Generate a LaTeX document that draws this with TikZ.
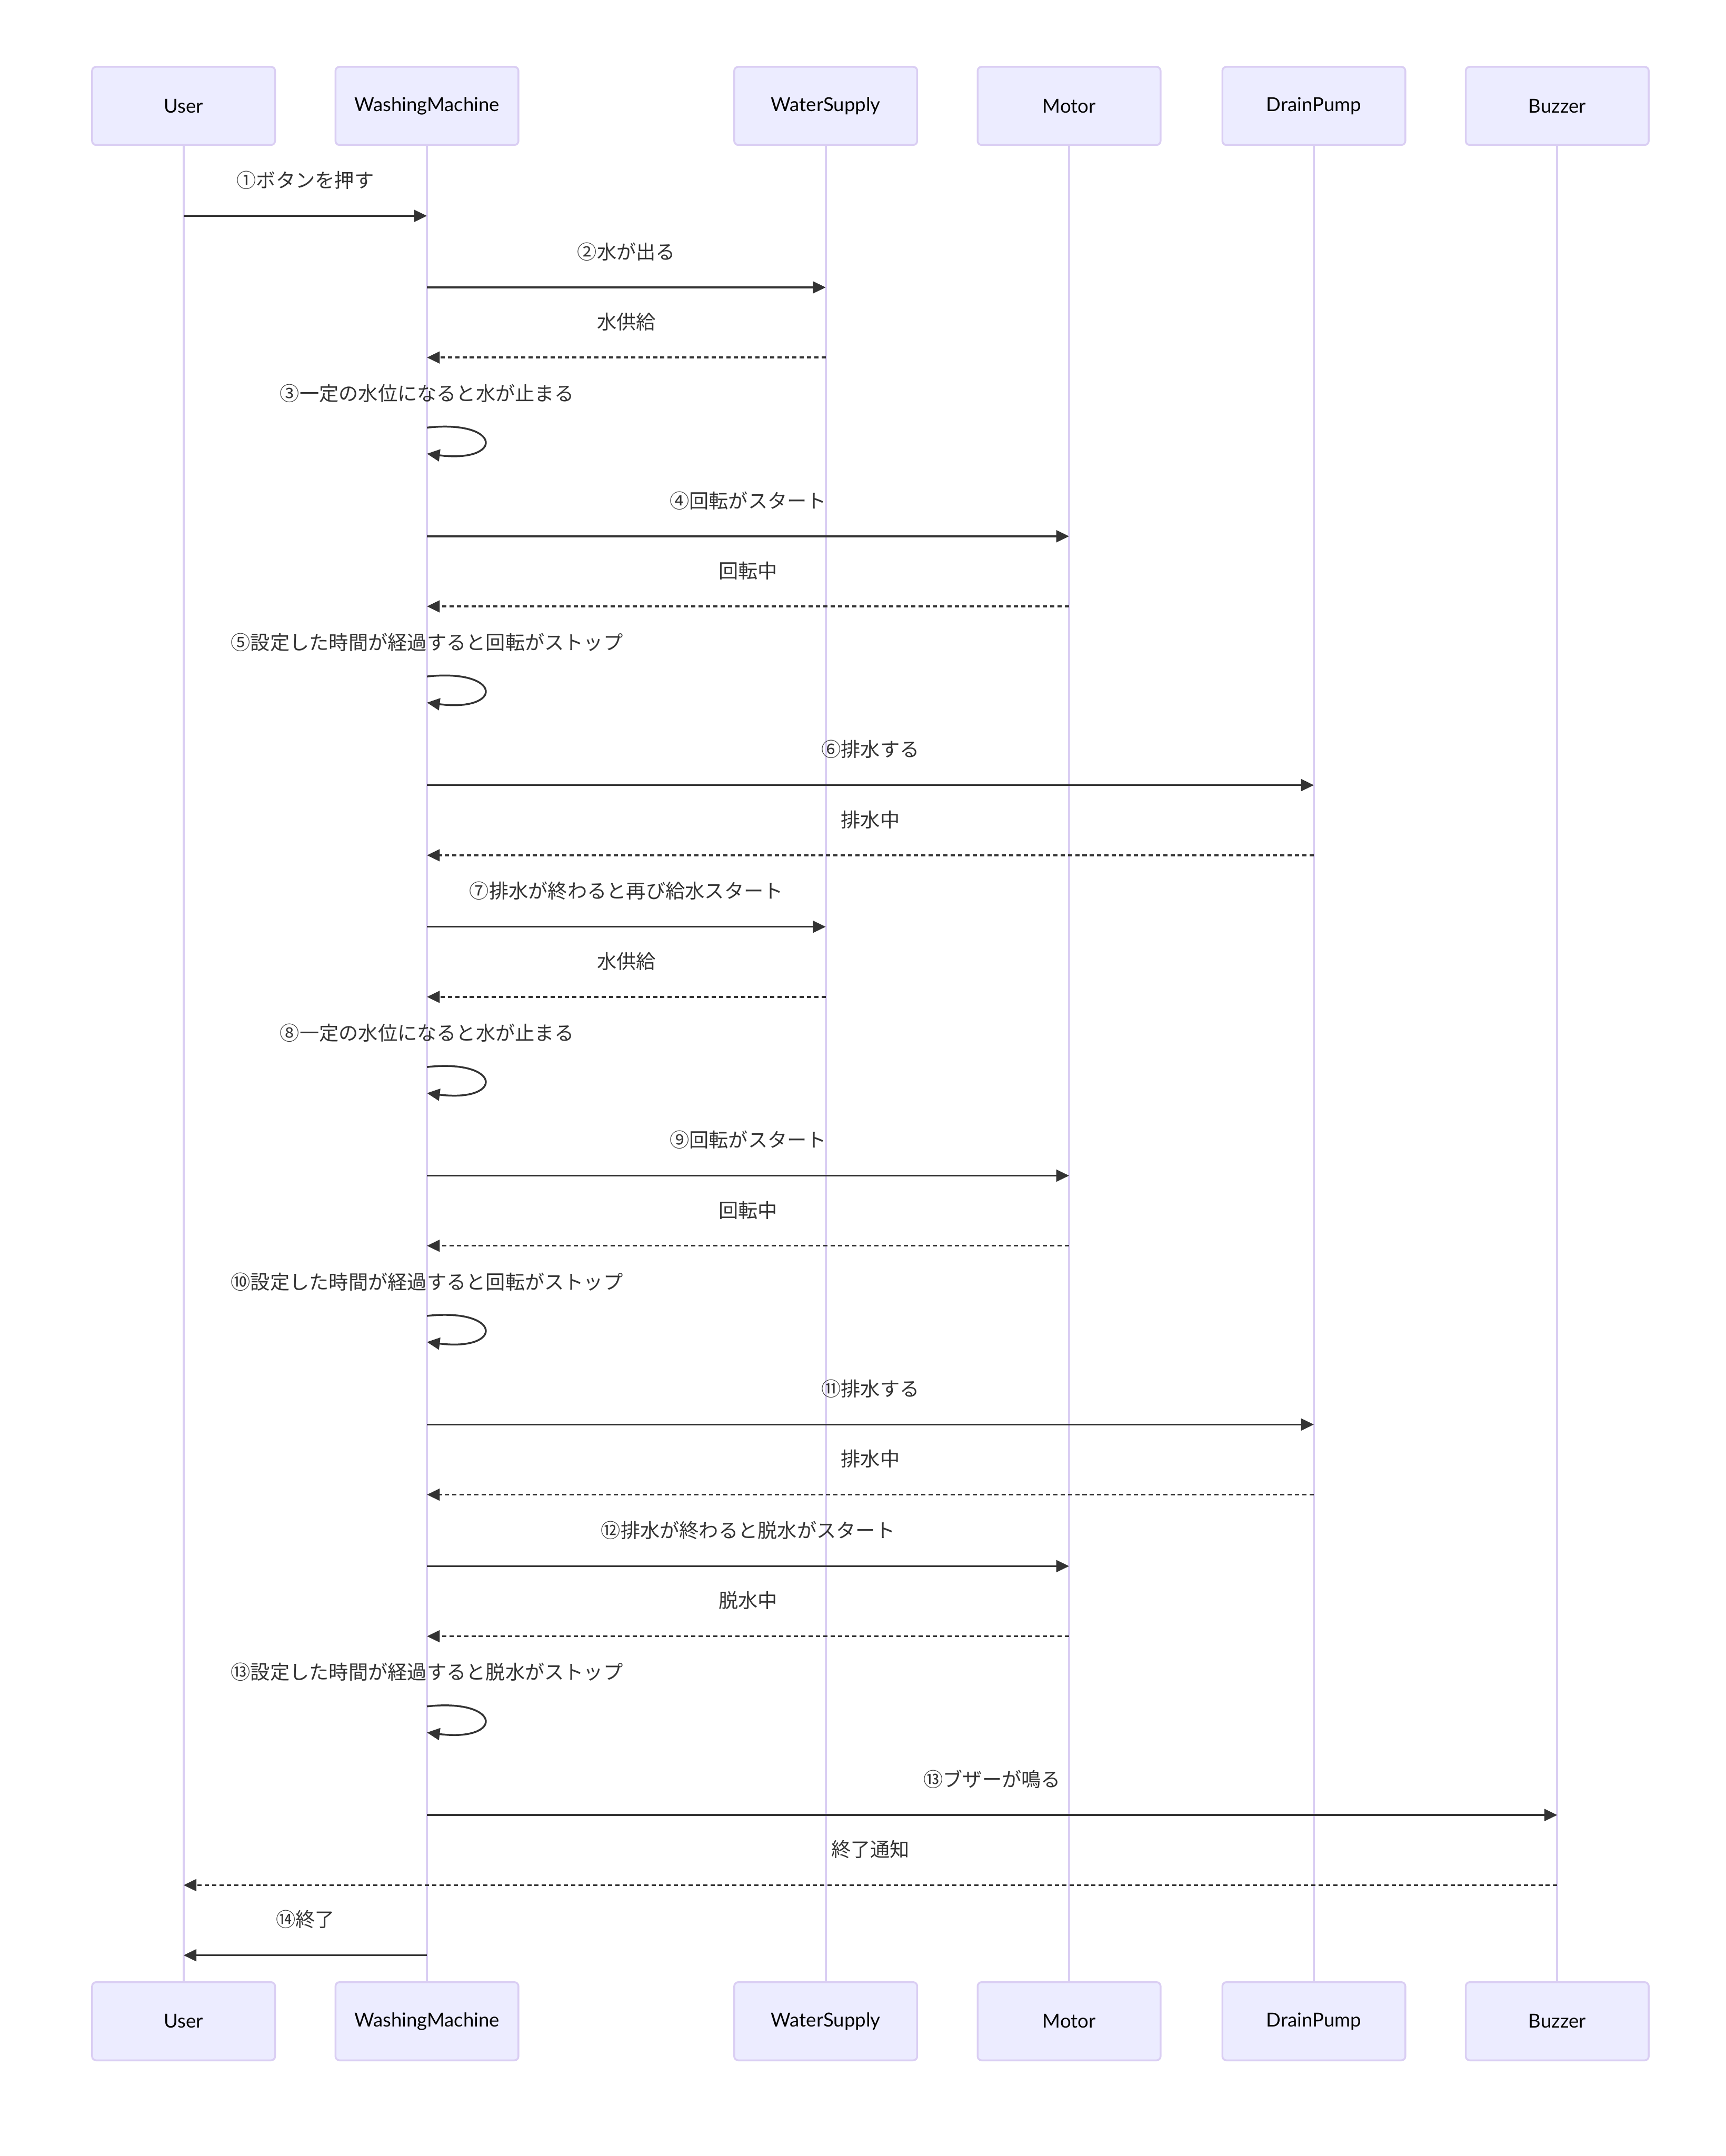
\documentclass[tikz,border=0pt]{standalone}
\usepackage{fontspec}
\setmainfont{Lato}
\newfontfamily\jpfont{Noto Sans CJK JP}
\usetikzlibrary{arrows.meta}
\definecolor{actfill}{HTML}{ECECFF}
\definecolor{actline}{RGB}{218,206,243}
\definecolor{msgcol}{HTML}{333333}

\begin{document}
\begin{tikzpicture}[x=0.02638cm,y=-0.02638cm,
  actor/.style={draw=actline,line width=1pt,fill=actfill,rounded corners=2.2pt,minimum width=3.51cm,minimum height=1.5cm,font=\fontsize{10.5}{12}\selectfont},
  life/.style={actline,line width=1.2pt},
  call/.style={msgcol,line width=1pt,-{Triangle[length=7pt,width=6.5pt]}},
  reply/.style={call,dash pattern=on 2.3pt off 1.7pt},
  msg/.style={text=msgcol,inner sep=0pt,font=\jpfont\fontsize{10.7}{12}\selectfont}]
\useasboundingbox (0,0) rectangle (1255,1568);
% actors, top and bottom, with lifelines
\foreach \nm/\x in {User/133.5,WashingMachine/310.5,WaterSupply/600.5,Motor/777.5,DrainPump/955.5,Buzzer/1132.5}{
  \node[actor] (\nm T) at (\x,77) {\nm};\node[actor] (\nm B) at (\x,1470) {\nm};
  \draw[life] (\nm T) -- (\nm B);}
% messages between lifelines
\foreach \n/\a/\b/\y/\t/\s in {1/User/WashingMachine/157/①ボタンを押す/call,
  2/WashingMachine/WaterSupply/209/②水が出る/call,3/WaterSupply/WashingMachine/260/水供給/reply,
  4/WashingMachine/Motor/390/④回転がスタート/call,5/Motor/WashingMachine/441/回転中/reply,
  6/WashingMachine/DrainPump/571/⑥排水する/call,7/DrainPump/WashingMachine/622/排水中/reply,
  8/WashingMachine/WaterSupply/674/⑦排水が終わると再び給水スタート/call,9/WaterSupply/WashingMachine/725/水供給/reply,
  10/WashingMachine/Motor/855/⑨回転がスタート/call,11/Motor/WashingMachine/906/回転中/reply,
  12/WashingMachine/DrainPump/1036/⑪排水する/call,13/DrainPump/WashingMachine/1087/排水中/reply,
  14/WashingMachine/Motor/1139/⑫排水が終わると脱水がスタート/call,15/Motor/WashingMachine/1190/脱水中/reply,
  16/WashingMachine/Buzzer/1320/⑬ブザーが鳴る/call,17/Buzzer/User/1371/終了通知/reply,
  18/WashingMachine/User/1422/⑭終了/call}{
  \coordinate (m\n s) at (\a T |- 0,\y);\coordinate (m\n e) at (\b T |- 0,\y);
  \draw[\s] (m\n s) -- node[msg,yshift=19.5pt] (l\n) {\t} (m\n e);}
% self messages on WashingMachine
\foreach \n/\y/\t in {3/311/③一定の水位になると水が止まる,5/492/⑤設定した時間が経過すると回転がストップ,
  8/776/⑧一定の水位になると水が止まる,10/957/⑩設定した時間が経過すると回転がストップ,
  13/1241/⑬設定した時間が経過すると脱水がストップ}{
  \coordinate (s\n) at (WashingMachineT |- 0,\y);\coordinate (e\n) at (WashingMachineT |- 0,\y+19);
  \node[msg,yshift=18.7pt] (k\n) at (s\n) {\t};
  \draw[call] (s\n) .. controls +(55,-6) and +(56,7) .. (e\n);}
\end{tikzpicture}
\end{document}
